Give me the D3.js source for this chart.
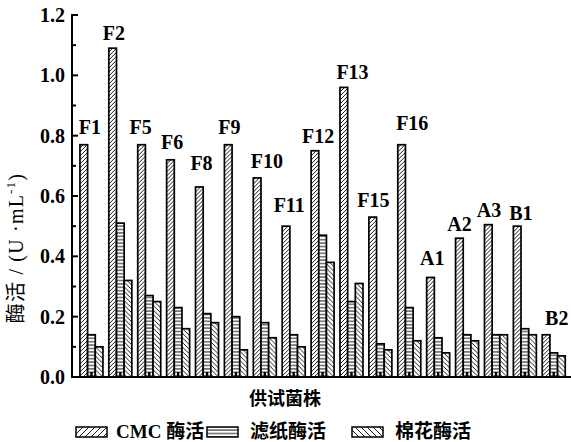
<!DOCTYPE html>
<html>
<head>
<meta charset="utf-8">
<script src="https://cdn.jsdelivr.net/npm/d3@7"></script>
<style>
  html, body { margin: 0; padding: 0; background: #fff; }
  svg { display: block; }
  text { fill: #000; }
</style>
</head>
<body>
<svg id="chart" width="571" height="442"></svg>
<script>
// Strains and the three enzyme activities (U/mL)
const strains = ["F1","F2","F5","F6","F8","F9","F10","F11","F12","F13","F15","F16","A1","A2","A3","B1","B2"];
const cmcActivity    = [0.77,1.09,0.77,0.72,0.63,0.77,0.66,0.50,0.75,0.96,0.53,0.77,0.33,0.46,0.505,0.50,0.14];
const filterActivity = [0.14,0.51,0.27,0.23,0.21,0.20,0.18,0.14,0.47,0.25,0.11,0.23,0.13,0.14,0.14,0.16,0.08];
const cottonActivity = [0.10,0.32,0.25,0.16,0.18,0.09,0.13,0.10,0.38,0.31,0.09,0.12,0.08,0.12,0.14,0.14,0.07];
const seriesNames = ["CMC 酶活", "滤纸酶活", "棉花酶活"];
const yTicks = [0, 0.2, 0.4, 0.6, 0.8, 1.0, 1.2];

// Hand-placed strain label offsets (px) relative to the group centre / tallest bar
const labelDx = [-1.5,-6.5,-8.5,-6,-5.5,-6.5,2,-4.5,-4.5,1,-7,3,-6,-7.5,-7,-4,3];
const labelDy = [-10.7,-8,-10.7,-10.5,-17,-10.7,-9.6,-14,-7.4,-8.4,-9.7,-14.7,-12,-7,-7.3,-6,-10];

const svg = d3.select("#chart");
const serif = "'Liberation Serif', 'Times New Roman', 'Noto Sans CJK SC', serif";

const plot = { left: 72, right: 571, top: 15, bottom: 377 };

const y = d3.scaleLinear().domain([0, 1.2]).range([plot.bottom, plot.top]);
const x0 = d3.scaleBand().domain(strains)
  .range([plot.left, plot.right]).paddingInner(0.204).paddingOuter(0.237).align(0.58);
const keys = ["cmc", "filter", "cotton"];
const x1 = d3.scaleBand().domain(keys).range([0, x0.bandwidth()]).padding(0);

// Hatch patterns
const defs = svg.append("defs");
function hatch(id, kind, s) {
  const p = defs.append("pattern").attr("id", id)
    .attr("patternUnits", "userSpaceOnUse").attr("width", s).attr("height", s);
  p.append("rect").attr("width", s).attr("height", s).attr("fill", "#fff");
  let d;
  if (kind === "fwd") d = `M0,${s} L${s},0 M${-s/2},${s/2} L${s/2},${-s/2} M${s/2},${s*1.5} L${s*1.5},${s/2}`;
  else if (kind === "back") d = `M0,0 L${s},${s} M${-s/2},${s/2} L${s/2},${s*1.5} M${s/2},${-s/2} L${s*1.5},${s/2}`;
  else d = `M0,${s/2} L${s},${s/2}`;
  p.append("path").attr("d", d).attr("stroke", "#000").attr("stroke-width", 0.9).attr("fill", "none");
}
hatch("h-cmc", "fwd", 4);
hatch("h-filter", "horiz", 3.4);
hatch("h-cotton", "back", 4.6);
hatch("l-cmc", "fwd", 6);
hatch("l-filter", "horiz", 3.4);
hatch("l-cotton", "back", 6);

const rows = strains.map((s, i) => ({
  strain: s,
  values: [
    { key: "cmc", v: cmcActivity[i] },
    { key: "filter", v: filterActivity[i] },
    { key: "cotton", v: cottonActivity[i] }
  ]
}));

// Bars
const groups = svg.append("g").selectAll("g").data(rows).join("g")
  .attr("transform", d => `translate(${x0(d.strain)},0)`);
groups.selectAll("rect").data(d => d.values).join("rect")
  .attr("x", d => x1(d.key))
  .attr("y", d => y(d.v))
  .attr("width", x1.bandwidth())
  .attr("height", d => y(0) - y(d.v))
  .attr("fill", d => `url(#h-${d.key})`)
  .attr("stroke", "#000")
  .attr("stroke-width", 1.7);

// Strain labels above each group
svg.append("g").selectAll("text").data(rows).join("text")
  .attr("x", (d, i) => x0(d.strain) + x0.bandwidth() / 2 + labelDx[i])
  .attr("y", (d, i) => y(d3.max(d.values, v => v.v)) + labelDy[i])
  .attr("text-anchor", "middle")
  .attr("font-family", serif)
  .attr("font-weight", "bold")
  .attr("font-size", 20)
  .text(d => d.strain);

// X axis: baseline with short inward ticks at each group
const xAxis = svg.append("g").attr("transform", `translate(0,${plot.bottom})`)
  .call(d3.axisBottom(x0).tickSize(-5).tickFormat(""));
xAxis.select(".domain").remove();
xAxis.selectAll(".tick line").attr("stroke", "#000").attr("stroke-width", 2.4);
svg.append("line")
  .attr("x1", plot.left - 1).attr("x2", plot.right)
  .attr("y1", plot.bottom).attr("y2", plot.bottom)
  .attr("stroke", "#000").attr("stroke-width", 2);

// Y axis with inward major and minor ticks
const yAxis = svg.append("g");
yAxis.append("line")
  .attr("x1", plot.left).attr("x2", plot.left)
  .attr("y1", plot.top - 1).attr("y2", plot.bottom + 1)
  .attr("stroke", "#000").attr("stroke-width", 2);
yAxis.selectAll(".major").data(yTicks).join("line")
  .attr("x1", plot.left).attr("x2", plot.left + 6)
  .attr("y1", d => y(d)).attr("y2", d => y(d))
  .attr("stroke", "#000").attr("stroke-width", 2);
yAxis.selectAll(".minor").data(d3.range(0.1, 1.2, 0.2)).join("line")
  .attr("x1", plot.left).attr("x2", plot.left + 4)
  .attr("y1", d => y(d)).attr("y2", d => y(d))
  .attr("stroke", "#000").attr("stroke-width", 2);
yAxis.selectAll("text").data(yTicks).join("text")
  .attr("x", 65).attr("y", d => y(d))
  .attr("dy", "0.35em")
  .attr("text-anchor", "end")
  .attr("font-family", serif)
  .attr("font-weight", "bold")
  .attr("font-size", 20)
  .text(d3.format(".1f"));

// Axis titles
const yTitle = svg.append("text")
  .attr("transform", "translate(23,248) rotate(-90)")
  .attr("text-anchor", "middle")
  .attr("font-family", serif)
  .attr("font-size", 20)
  .attr("letter-spacing", 1.2);
yTitle.append("tspan").text("酶活 / (U ·mL");
yTitle.append("tspan").attr("font-size", 13).attr("dy", -8).text("-1");
yTitle.append("tspan").attr("dy", 8).text(")");

svg.append("text")
  .attr("x", 285).attr("y", 405)
  .attr("text-anchor", "middle")
  .attr("font-family", serif)
  .attr("font-weight", "bold")
  .attr("font-size", 18)
  .text("供试菌株");

// Legend
const legendItems = [
  { key: "cmc", label: seriesNames[0], sx: 76, tx: 116 },
  { key: "filter", label: seriesNames[1], sx: 207, tx: 250 },
  { key: "cotton", label: seriesNames[2], sx: 352, tx: 395 }
];
const lg = svg.append("g").selectAll("g").data(legendItems).join("g");
lg.append("rect")
  .attr("x", d => d.sx).attr("y", 427)
  .attr("width", 31).attr("height", 10)
  .attr("fill", d => `url(#l-${d.key})`)
  .attr("stroke", "#000").attr("stroke-width", 1.5);
lg.append("text")
  .attr("x", d => d.tx).attr("y", 438)
  .attr("font-family", serif)
  .attr("font-weight", "bold")
  .attr("font-size", 19)
  .text(d => d.label);
</script>
</body>
</html>
